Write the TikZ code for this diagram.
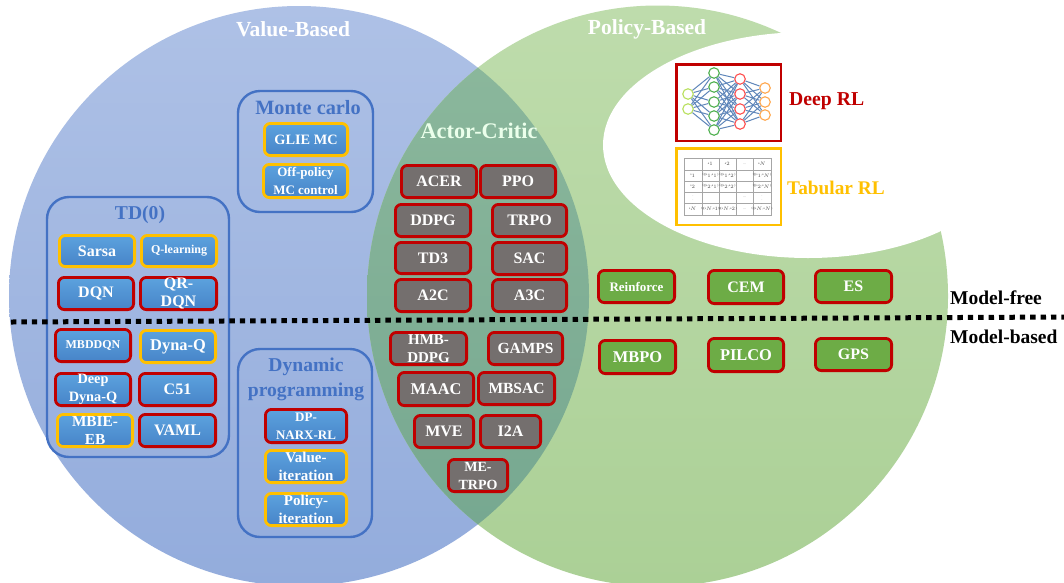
\documentclass[tikz,border=0pt]{standalone}
\usepackage{fontspec}
\setmainfont{Liberation Serif}
\usetikzlibrary{calc}
\definecolor{blueTop}{HTML}{AEC1E6}
\definecolor{blueBot}{HTML}{93ACDC}
\definecolor{greenTop}{HTML}{BEDCAC}
\definecolor{greenBot}{HTML}{ABD096}
\definecolor{overTop}{HTML}{8DB99D}
\definecolor{overBot}{HTML}{74A68F}
\definecolor{ttl}{HTML}{4472C4}
\definecolor{rl}{HTML}{C00000}
\definecolor{tb}{HTML}{FFC000}
\definecolor{boxTop}{HTML}{5CA2DE}
\definecolor{boxBot}{HTML}{4784C8}
\definecolor{grayBox}{HTML}{746F6E}
\definecolor{greenBox}{HTML}{6DAC46}
\definecolor{nnEdge}{HTML}{5F86BA}
\tikzset{
  algbase/.style={rounded corners=6pt,line width=2.8pt,inner sep=0pt,align=center,text=white,font=\bfseries},
  bluebox/.style={algbase,top color=boxTop,bottom color=boxBot},
  graybox/.style={algbase,fill=grayBox},
  greenbox/.style={algbase,fill=greenBox},
  deep/.style={draw=rl},
  tabular/.style={draw=tb},
  group/.style={draw=ttl,line width=2.4pt,rounded corners=22pt},
  grouptitle/.style={text=ttl,font=\bfseries,align=center,inner sep=0pt},
  vennlabel/.style={text=white,font=\bfseries,inner sep=0pt},
  sidelabel/.style={text=black,font=\bfseries,inner sep=0pt,anchor=west},
  cellt/.style={inner sep=0pt,text=black!70,font=\fontsize{3.2}{4}\selectfont},
  nn/.style={circle,line width=1.1pt,minimum size=10.5pt,inner sep=0pt},
  nnlink/.style={nnEdge,line width=1pt},
}
\newcommand{\fz}[1]{\fontsize{#1}{18}\selectfont}
% name, x1, y1, x2, y2, styles, font size, text
\newcommand{\algbox}[8]{%
  \pgfmathsetmacro{\bw}{#4-#2-2.8}\pgfmathsetmacro{\bh}{#5-#3-2.8}%
  \pgfmathsetmacro{\bx}{(#2+#4)/2}\pgfmathsetmacro{\by}{(#3+#5)/2}%
  \node[#6,minimum width=\bw pt,minimum height=\bh pt,font=\bfseries\fz{#7}] (#1) at (\bx,\by) {#8};%
}
\begin{document}
\begin{tikzpicture}[x=1pt,y=-1pt]
\useasboundingbox (0,0) rectangle (1064,582);
\fill[white] (0,0) rectangle (1064,582);
% Venn circles
\shade[top color=blueTop,bottom color=blueBot] (299,296) circle (290pt);
\shade[top color=greenTop,bottom color=greenBot] (657.5,296) circle (290.5pt);
\begin{scope}
  \clip (299,296) circle (290pt);
  \shade[top color=overTop,bottom color=overBot] (657.5,296) circle (290.5pt);
\end{scope}
\fill[white] (808,145) ellipse (205pt and 113pt);
% titles
\node[vennlabel,font=\bfseries\fontsize{21.5}{24}\selectfont] (vb) at (293,29) {Value-Based};
\node[vennlabel,font=\bfseries\fontsize{21.5}{24}\selectfont] (pb) at (647,29) {Policy-Based};
\node[vennlabel,font=\bfseries\fontsize{22.3}{24}\selectfont,text=white!92!green] (ac) at (479,131) {Actor-Critic};
% groups
\draw[group] (47,197) rectangle (229,457);
\draw[group] (238,91) rectangle (373,212);
\draw[group] (238,349) rectangle (372,537);
\node[grouptitle,font=\bfseries\fontsize{19.6}{24}\selectfont] (tdt) at (140,215) {TD(0)};
\node[grouptitle,font=\bfseries\fontsize{20.3}{24}\selectfont] (mct) at (308,108) {Monte carlo};
\node[grouptitle,font=\bfseries\fontsize{19.6}{25}\selectfont] (dpt) at (306,379) {Dynamic\\programming};
% TD(0)
\algbox{sarsa}{58}{234}{136}{268}{bluebox,tabular}{16}{Sarsa}
\algbox{qlearn}{140}{234}{218}{268}{bluebox,tabular}{12}{Q-learning}
\algbox{dqn}{57}{276}{135}{311}{bluebox,deep}{16}{DQN}
\algbox{qrdqn}{139}{276}{218}{311}{bluebox,deep}{16}{QR-\\DQN}
\algbox{mbddqn}{54}{328}{132}{363}{bluebox,deep}{12}{MBDDQN}
\algbox{dynaq}{139}{329}{217}{364}{bluebox,tabular}{16.4}{Dyna-Q}
\algbox{deepdyna}{54}{372}{132}{407}{bluebox,deep}{14.3}{Deep\\Dyna-Q}
\algbox{cfo}{138}{372}{217}{407}{bluebox,deep}{16}{C51}
\algbox{mbie}{56}{413}{134}{448}{bluebox,tabular}{15.3}{MBIE-\\EB}
\algbox{vaml}{138}{413}{217}{448}{bluebox,deep}{16}{VAML}
% Monte carlo
\algbox{glie}{263}{122}{349}{157}{bluebox,tabular}{14.3}{GLIE MC}
\algbox{offp}{262}{163}{349}{199}{bluebox,tabular}{13}{Off-policy\\MC control}
% Dynamic programming
\algbox{dpnarx}{264}{408}{348}{444}{bluebox,deep}{13}{DP-\\NARX-RL}
\algbox{valit}{264}{449}{348}{484}{bluebox,tabular}{15}{Value-\\iteration}
\algbox{polit}{264}{492}{348}{527}{bluebox,tabular}{15}{Policy-\\iteration}
% Actor-Critic
\algbox{acer}{400}{164}{478}{199}{graybox,deep}{16}{ACER}
\algbox{ppo}{479}{164}{557}{199}{graybox,deep}{16}{PPO}
\algbox{ddpg}{394}{203}{472}{238}{graybox,deep}{16}{DDPG}
\algbox{trpo}{491}{203}{568}{238}{graybox,deep}{16}{TRPO}
\algbox{tdt3}{394}{241}{472}{275}{graybox,deep}{16}{TD3}
\algbox{sac}{491}{241}{568}{276}{graybox,deep}{16}{SAC}
\algbox{atc}{394}{278}{472}{313}{graybox,deep}{16}{A2C}
\algbox{atc3}{491}{278}{568}{313}{graybox,deep}{16}{A3C}
\algbox{hmb}{389}{331}{468}{366}{graybox,deep}{15}{HMB-\\DDPG}
\algbox{gamps}{487}{331}{564}{366}{graybox,deep}{15.5}{GAMPS}
\algbox{maac}{397}{371}{475}{407}{graybox,deep}{16.4}{MAAC}
\algbox{mbsac}{477}{371}{556}{406}{graybox,deep}{15.5}{MBSAC}
\algbox{mve}{413}{414}{475}{449}{graybox,deep}{16}{MVE}
\algbox{ita}{479}{414}{542}{449}{graybox,deep}{16}{I2A}
\algbox{metrpo}{447}{458}{509}{493}{graybox,deep}{14}{ME-\\TRPO}
% Policy-based
\algbox{reinf}{597}{269}{676}{304}{greenbox,deep}{13}{Reinforce}
\algbox{cem}{707}{269}{785}{305}{greenbox,deep}{16}{CEM}
\algbox{es}{814}{269}{893}{304}{greenbox,deep}{16}{ES}
\algbox{mbpo}{598}{339}{677}{375}{greenbox,deep}{16.4}{MBPO}
\algbox{pilco}{707}{337}{785}{373}{greenbox,deep}{16.4}{PILCO}
\algbox{gps}{814}{337}{893}{372}{greenbox,deep}{16}{GPS}
% dotted divider
\coordinate (dl) at (11,322);
\coordinate (dr) at (1064,317);
\draw[line width=5pt,dash pattern=on 5.4pt off 5pt] (dl) -- (dr);
\node[sidelabel,font=\bfseries\fontsize{19.5}{22}\selectfont] (mf) at (950,298) {Model-free};
\node[sidelabel,font=\bfseries\fontsize{19.5}{22}\selectfont] (mb) at (950,337) {Model-based};
% legend: deep
\draw[rl,line width=2.8pt] (676.5,64.5) rectangle (781,141);
\foreach \n/\yy in {1/94,2/109} \node[nn,draw=yellow!60!green!70] (i\n) at (688,\yy) {};
\foreach \n/\yy in {1/73,2/87,3/102,4/116,5/130} \node[nn,draw=green!55!black!70] (h\n) at (714,\yy) {};
\foreach \n/\yy in {1/79,2/94,3/109,4/124} \node[nn,draw=red!70!white] (r\n) at (740,\yy) {};
\foreach \n/\yy in {1/88,2/102,3/115} \node[nn,draw=orange!70!white] (o\n) at (765,\yy) {};
\foreach \a in {1,2} \foreach \b in {1,...,5} \draw[nnlink] (i\a) -- (h\b);
\foreach \a in {1,...,5} \foreach \b in {1,...,4} \draw[nnlink] (h\a) -- (r\b);
\foreach \a in {1,...,4} \foreach \b in {1,2,3} \draw[nnlink] (r\a) -- (o\b);
\node[inner sep=0pt,anchor=west,text=rl,font=\bfseries\fontsize{19.7}{22}\selectfont] (deeplbl) at (789,101) {Deep RL};
% legend: tabular
\draw[tb,line width=2.8pt] (676.5,148.5) rectangle (781,225);
\draw[black!35,line width=.6pt] (684,158) rectangle (771,215);
\foreach \xx in {702,719,736,753} \draw[black!35,line width=.6pt] (\xx,158) -- (\xx,215);
\foreach \yy in {170,181,192,203} \draw[black!35,line width=.6pt] (684,\yy) -- (771,\yy);
\foreach \xx/\lab/\k in {710.5/a$_1$/a,727.5/a$_2$/b,744.5/\ldots/c,762/a$_N$/d} \node[cellt] (ch\k) at (\xx,164) {\lab};
\foreach \yy/\lab/\k in {175.5/s$_1$/a,186.5/s$_2$/b,197.5/\vdots/c,209/s$_N$/d} \node[cellt] (rh\k) at (693,\yy) {\lab};
\foreach \yy/\rr in {175.5/1,186.5/2,209/N} {
  \node[cellt] (ca\rr) at (710.5,\yy) {Q(s$_\rr$,a$_1$)};
  \node[cellt] (cb\rr) at (727.5,\yy) {Q(s$_\rr$,a$_2$)};
  \node[cellt] (cd\rr) at (762,\yy) {Q(s$_\rr$,a$_N$)};
}
\node[cellt] (dots1) at (744.5,197.5) {\ldots};
\node[cellt] (dots2) at (744.5,209) {\ldots};
\node[cellt] (dots3) at (762,197.5) {\vdots};
\node[inner sep=0pt,anchor=west,text=tb,font=\bfseries\fontsize{19.3}{22}\selectfont] (tablbl) at (787,188) {Tabular RL};
\end{tikzpicture}
\end{document}
